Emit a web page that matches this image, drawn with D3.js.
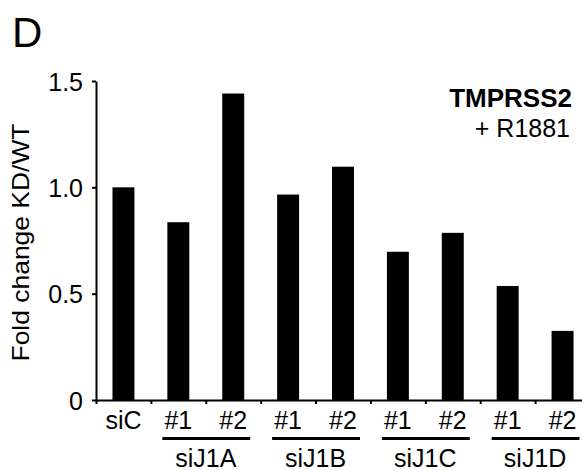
<!DOCTYPE html>
<html lang="en">
<head>
    <meta charset="UTF-8">
    <title>TMPRSS2 fold change</title>
    <script src="https://d3js.org/d3.v7.min.js"></script>
    <style>
        body { margin: 0; background: #fff; }
        svg text { font-family: Arial, "Liberation Sans", sans-serif; fill: #000; }
        .axis path, .axis line { stroke: #000; stroke-width: 2px; }
    </style>
</head>
<body>
    <svg width="582" height="470"></svg>

    <script>
        // bars, left to right
        const barIds = ['siC', 'J1A_1', 'J1A_2', 'J1B_1', 'J1B_2', 'J1C_1', 'J1C_2', 'J1D_1', 'J1D_2'];
        const barLabels = ['siC', '#1', '#2', '#1', '#2', '#1', '#2', '#1', '#2'];
        const foldChange = [1.0, 0.836, 1.441, 0.966, 1.097, 0.697, 0.786, 0.536, 0.325];

        // siRNA groups that share an underline
        const groupNames = ['siJ1A', 'siJ1B', 'siJ1C', 'siJ1D'];
        const groupMembers = [['J1A_1', 'J1A_2'], ['J1B_1', 'J1B_2'], ['J1C_1', 'J1C_2'], ['J1D_1', 'J1D_2']];

        const yTicks = [0, 0.5, 1.0, 1.5];
        const yTickLabels = ['0', '0.5', '1.0', '1.5'];

        const svg = d3.select('svg');

        const margin = { top: 80, left: 96, bottom: 400 };

        const x = d3.scaleBand()
            .domain(barIds)
            .range([margin.left, 590])
            .padding(0);

        const y = d3.scaleLinear()
            .domain([0, 1.5])
            .range([margin.bottom, margin.top + 1]);

        const barW = x.bandwidth() * 0.4;

        // bars
        svg.selectAll('.bar')
            .data(barIds)
            .enter()
            .append('rect')
            .attr('class', 'bar')
            .attr('x', d => x(d) + (x.bandwidth() - barW) / 2)
            .attr('y', (d, i) => y(foldChange[i]))
            .attr('width', barW)
            .attr('height', (d, i) => y(0) - y(foldChange[i]))
            .attr('fill', '#000');

        // y axis
        const yAxis = svg.append('g')
            .attr('class', 'axis')
            .attr('transform', `translate(${margin.left}, 0)`)
            .call(d3.axisLeft(y)
                .tickValues(yTicks)
                .tickFormat((d, i) => yTickLabels[i])
                .tickSize(4)
                .tickSizeOuter(0)
                .tickPadding(9));
        yAxis.selectAll('text')
            .style('font-size', '25px')
            .attr('dy', '0.36em');

        // x axis: ticks on band edges
        const xEdge = d3.scaleLinear().domain([0, barIds.length]).range(x.range());
        svg.append('g')
            .attr('class', 'axis')
            .attr('transform', `translate(0, ${y(0)})`)
            .call(d3.axisBottom(xEdge)
                .tickValues(d3.range(0, barIds.length + 1))
                .tickFormat('')
                .tickSize(4)
                .tickSizeOuter(0));

        // bar labels
        svg.selectAll('.bar-label')
            .data(barIds)
            .enter()
            .append('text')
            .attr('class', 'bar-label')
            .attr('x', d => x(d) + x.bandwidth() / 2)
            .attr('y', 429)
            .attr('text-anchor', 'middle')
            .style('font-size', '25px')
            .text((d, i) => barLabels[i]);

        // group underlines and names
        const center = id => x(id) + x.bandwidth() / 2;
        const groups = svg.selectAll('.group')
            .data(groupNames)
            .enter()
            .append('g')
            .attr('class', 'group');

        groups.append('line')
            .attr('x1', (d, i) => center(groupMembers[i][0]) - 16)
            .attr('x2', (d, i) => center(groupMembers[i][1]) + 17)
            .attr('y1', 438.5)
            .attr('y2', 438.5)
            .attr('stroke', '#000')
            .attr('stroke-width', 3);

        groups.append('text')
            .attr('x', (d, i) => (center(groupMembers[i][0]) + center(groupMembers[i][1])) / 2)
            .attr('y', 466.5)
            .attr('text-anchor', 'middle')
            .style('font-size', '25px')
            .text(d => d);

        // y axis title (reference lettering runs wider than the font)
        svg.append('text')
            .attr('transform', 'translate(29, 242.5) rotate(-90)')
            .attr('text-anchor', 'middle')
            .attr('textLength', 238)
            .attr('lengthAdjust', 'spacingAndGlyphs')
            .style('font-size', '24px')
            .text('Fold change KD/WT');

        // panel letter
        svg.append('text')
            .attr('x', 12)
            .attr('y', 47)
            .style('font-size', '42px')
            .text('D');

        // gene annotation
        svg.append('text')
            .attr('x', 572)
            .attr('y', 106.5)
            .attr('text-anchor', 'end')
            .style('font-size', '26px')
            .style('font-weight', 'bold')
            .text('TMPRSS2');

        svg.append('text')
            .attr('x', 570)
            .attr('y', 136.5)
            .attr('text-anchor', 'end')
            .style('font-size', '25px')
            .text('+ R1881');
    </script>
</body>
</html>
